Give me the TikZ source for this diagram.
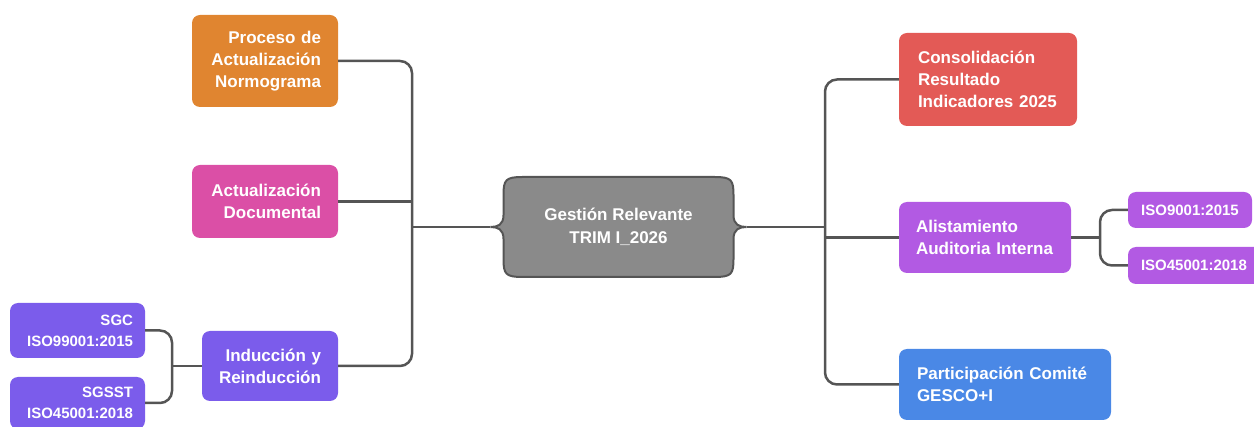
\documentclass[tikz,border=0pt]{standalone}
\usepackage{fontspec}
\setmainfont{Liberation Sans}
\usepackage{tikz}
\usetikzlibrary{calc,positioning}
\definecolor{mindorange}{RGB}{224,133,48}
\definecolor{mindpink}{RGB}{219,79,166}
\definecolor{mindindigo}{RGB}{123,92,235}
\definecolor{mindgray}{RGB}{138,138,138}
\definecolor{mindgraydark}{RGB}{85,85,85}
\definecolor{mindred}{RGB}{227,90,86}
\definecolor{mindviolet}{RGB}{178,90,227}
\definecolor{mindblue}{RGB}{74,136,230}
\definecolor{mindline}{RGB}{85,85,85}

\begin{document}
\begin{tikzpicture}[
  x=1pt, y=-1pt,
  mybox/.style={
    rounded corners=8pt,
    fill=#1,
    text=white,
    inner ysep=0pt,
    font=\bfseries\fontsize{17}{22}\selectfont
    },
  leftbox/.style={mybox=#1, align=right, inner xsep=17pt},
  rightbox/.style={mybox=#1, align=left},
  smallbox/.style={
    mybox=#1,
    font=\bfseries\fontsize{15}{21}\selectfont
    },
  conn/.style={draw=mindline, line width=2.5pt, rounded corners=12pt}
]
\useasboundingbox (0,0) rectangle (1254,427);

% center
\node[minimum width=257pt, minimum height=100pt, inner sep=0pt] (gest) at (618.5,227) {};
\begin{scope}[shift={(gest.center)}]
  \filldraw[fill=mindgray, draw=mindgraydark, line width=2pt]
    (-96,-50) -- (96,-50)
    .. controls (113,-50) and (115,-47) .. (115,-32) -- (115,-12)
    .. controls (115,-2) and (121,0) .. (128,0)
    .. controls (121,0) and (115,2) .. (115,12) -- (115,32)
    .. controls (115,47) and (113,50) .. (96,50) -- (-96,50)
    .. controls (-113,50) and (-115,47) .. (-115,32) -- (-115,12)
    .. controls (-115,2) and (-121,0) .. (-128,0)
    .. controls (-121,0) and (-115,-2) .. (-115,-12) -- (-115,-32)
    .. controls (-115,-47) and (-113,-50) .. (-96,-50) -- cycle;
\end{scope}
\node[text=white, align=center, font=\bfseries\fontsize{17}{23}\selectfont]
  (gesttext) at (gest.center) {Gestión Relevante\\TRIM I\_2026};

% left side
\node[leftbox=mindorange, text width=112pt, minimum height=92pt]
  (proc) at (265,61) {Proceso de\\Actualización\\Normograma};
\node[leftbox=mindpink, text width=112pt, minimum height=73pt]
  (act) at (265,201.5) {Actualización\\Documental};
\node[leftbox=mindindigo, text width=102pt, minimum height=70pt]
  (ind) at (270,366) {Inducción y\\Reinducción};
\node[smallbox=mindindigo, align=right, inner xsep=12pt, text width=111pt, minimum height=55pt]
  (sgc) at (77.5,330.5) {SGC\\ISO99001:2015};
\node[smallbox=mindindigo, align=right, inner xsep=12pt, text width=111pt, minimum height=52pt]
  (sgsst) at (77.5,403) {SGSST\\ISO45001:2018};

% right side
\node[rightbox=mindred, inner xsep=19pt, text width=140pt, minimum height=93pt]
  (cons) at (988,79.5) {Consolidación\\Resultado\\Indicadores 2025};
\node[rightbox=mindviolet, inner xsep=17pt, text width=138pt, minimum height=71pt]
  (alis) at (985,237.5) {Alistamiento\\Auditoria Interna};
\node[rightbox=mindblue, inner xsep=18pt, text width=176pt, minimum height=71pt]
  (part) at (1005,384.5) {Participación Comité\\GESCO+I};
\node[smallbox=mindviolet, align=center, inner xsep=0pt, minimum width=124pt, minimum height=36pt]
  (iso9) at (1190,210) {ISO9001:2015};
\node[smallbox=mindviolet, align=left, inner xsep=13pt, text width=120pt, minimum height=37pt]
  (iso45) at (1201,265.5) {ISO45001:2018};

% connectors
\coordinate (ltrunk) at (412,227);
\coordinate (rtrunk) at (825,227);
\coordinate (lsub) at (172,366);
\coordinate (rsub) at (1100,237.5);

\draw[conn] (proc.east) -| (ltrunk) |- (ind.east);
\draw[conn] (act.east) -- (act.east -| ltrunk);
\draw[conn] (gest.west) -- (ltrunk);

\draw[conn] (cons.west) -| (rtrunk) |- (part.west);
\draw[conn] (alis.west) -- (alis.west -| rtrunk);
\draw[conn] (gest.east) -- (rtrunk);

\draw[conn] (sgc.east) -| (lsub) |- (sgsst.east);
\draw[conn] (ind.west) -- (lsub);

\draw[conn] (iso9.west) -| (rsub) |- (iso45.west);
\draw[conn] (alis.east) -- (rsub);

\end{tikzpicture}
\end{document}
